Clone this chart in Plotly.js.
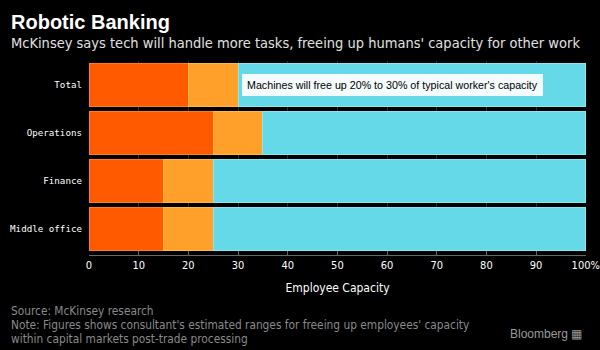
<!DOCTYPE html>
<html><head><meta charset="utf-8">
<script src="https://cdn.plot.ly/plotly-3.0.1.min.js"></script>
<style>html,body{margin:0;padding:0;background:#000;}#chart{width:600px;height:350px;}</style>
</head><body><div id="chart"></div>
<script>
const categories = ["Total", "Operations", "Finance", "Middle office"];
const machinesLow = [20, 25, 15, 15];
const machinesRange = [10, 10, 10, 10];
const remaining = [70, 65, 75, 75];
const xTickVals = [0, 10, 20, 30, 40, 50, 60, 70, 80, 90, 100];
const xTickText = ["0", "10", "20", "30", "40", "50", "60", "70", "80", "90", "100%"];

const colors = ["#ff5a00", "#ffa02a", "#66d9e8"];
const edge = ["#ff7a2a", "#ffb84a", "#8ae6f0"];
const series = [machinesLow, machinesRange, remaining];
const names = ["Low estimate", "Range", "Remaining"];

const traces = series.map((vals, i) => ({
  type: "bar", orientation: "h", x: vals, y: categories, name: names[i],
  marker: {color: colors[i], line: {color: edge[i], width: 1}},
  hoverinfo: "skip"
}));

// plot area: top 61px, bottom 255px (194px tall)
const H = 194, T = 61;
const py = p => 1 + (T - p) / H;

const layout = {
  width: 600, height: 350,
  paper_bgcolor: "#000", plot_bgcolor: "#000",
  margin: {l: 89, r: 14, t: 61, b: 95},
  barmode: "stack", bargap: 0.1, showlegend: false,
  font: {family: "DejaVu Sans Condensed", color: "#fff"},
  xaxis: {
    range: [0, 100.05], tickvals: xTickVals, ticktext: xTickText,
    showgrid: true, gridcolor: "#2e2e2e", gridwidth: 1,
    zeroline: false, showline: true, linecolor: "#666", linewidth: 1,
    ticks: "inside", ticklen: 4, tickcolor: "#666",
    tickfont: {family: "DejaVu Sans Condensed", size: 11, color: "#fff"},
    title: {text: "Employee Capacity", font: {family: "DejaVu Sans Condensed", size: 12, color: "#fff"}, standoff: 12}
  },
  yaxis: {
    range: [3.54, -0.5], showgrid: false, zeroline: false, showline: false,
    ticks: "", ticklabelstandoff: 6,
    tickfont: {family: "DejaVu Sans Mono", size: 9.2, color: "#fff"}
  },
  annotations: [
    {xref: "paper", yref: "paper", x: -0.161, y: py(22), xanchor: "left", yanchor: "middle",
     text: "<b>Robotic Banking</b>", showarrow: false,
     font: {family: "Liberation Sans", size: 20, color: "#fff"}},
    {xref: "paper", yref: "paper", x: -0.161, y: py(43), xanchor: "left", yanchor: "middle",
     text: "McKinsey says tech will handle more tasks, freeing up humans' capacity for other work", showarrow: false,
     font: {family: "DejaVu Sans Condensed", size: 14.5, color: "#e0e0e0"}},
    {x: 30, y: "Total", xref: "x", yref: "y", xanchor: "left", yanchor: "middle",
     xshift: 4,
     text: "Machines will free up 20% to 30% of typical worker's capacity", showarrow: false,
     bgcolor: "#f4fbfc", borderpad: 4, bordercolor: "#f4fbfc",
     font: {family: "Liberation Sans", size: 10.7, color: "#000"}},
    {xref: "paper", yref: "paper", x: -0.161, y: py(311), xanchor: "left", yanchor: "middle",
     text: "Source: McKinsey research", showarrow: false,
     font: {family: "DejaVu Sans Condensed", size: 11.8, color: "#8a8a8a"}},
    {xref: "paper", yref: "paper", x: -0.161, y: py(325), xanchor: "left", yanchor: "middle",
     text: "Note: Figures shows consultant's estimated ranges for freeing up employees' capacity", showarrow: false,
     font: {family: "DejaVu Sans Condensed", size: 11.8, color: "#8a8a8a"}},
    {xref: "paper", yref: "paper", x: -0.161, y: py(339), xanchor: "left", yanchor: "middle",
     text: "within capital markets post-trade processing", showarrow: false,
     font: {family: "DejaVu Sans Condensed", size: 11.8, color: "#8a8a8a"}},
    {xref: "paper", yref: "paper", x: 1.0, y: py(334), xanchor: "right", yanchor: "middle",
     xshift: -2,
     text: "Bloomberg \u25A6", showarrow: false,
     font: {family: "Liberation Sans", size: 12, color: "#9a9a9a"}}
  ]
};

Plotly.newPlot("chart", traces, layout, {displayModeBar: false, staticPlot: true});
</script></body></html>
